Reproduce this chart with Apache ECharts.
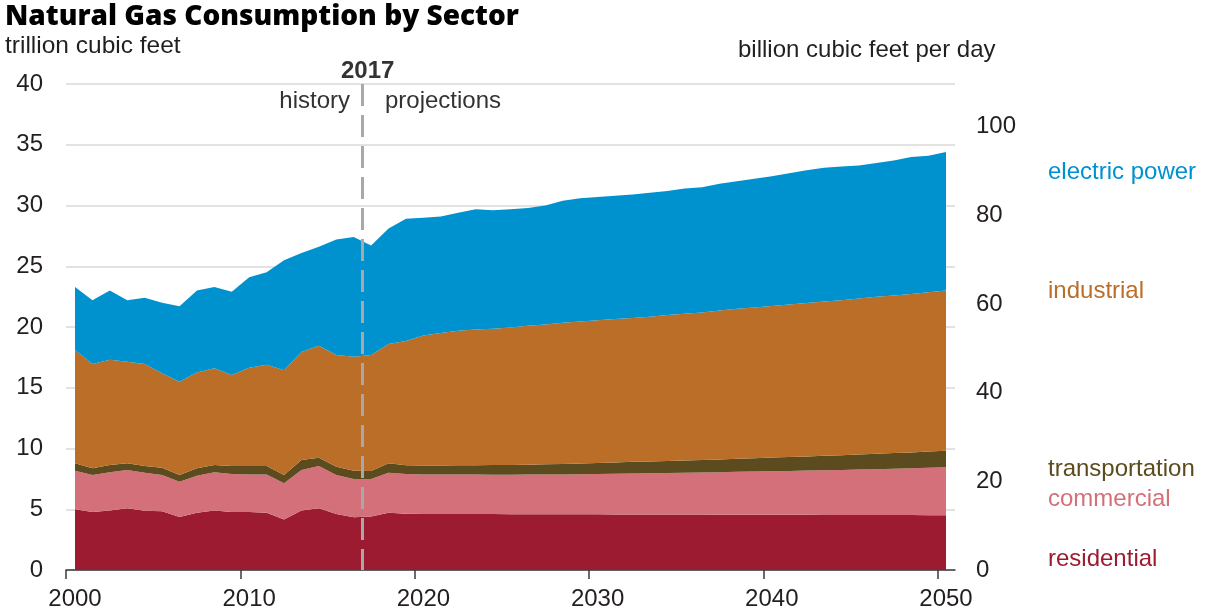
<!DOCTYPE html>
<html>
<head>
<meta charset="utf-8">
<script src="https://cdn.jsdelivr.net/npm/echarts@6/dist/echarts.min.js"></script>
<style>
html,body{margin:0;padding:0;background:#fff;}
#c{width:1205px;height:614px;}
</style>
</head>
<body>
<div id="c"></div>
<script>
const years = [2000,2001,2002,2003,2004,2005,2006,2007,2008,2009,2010,2011,2012,2013,2014,2015,2016,2017,
  2018,2019,2020,2021,2022,2023,2024,2025,2026,2027,2028,2029,2030,2031,2032,2033,2034,2035,2036,2037,2038,2039,
  2040,2041,2042,2043,2044,2045,2046,2047,2048,2049,2050];

const residential = [5.00,4.77,4.89,5.08,4.87,4.83,4.37,4.72,4.89,4.78,4.78,4.71,4.15,4.90,5.09,4.61,4.35,4.41,
  4.72,4.62,4.60,4.60,4.60,4.60,4.60,4.59,4.59,4.59,4.58,4.58,4.58,4.57,4.57,4.57,4.56,4.56,4.56,4.55,4.55,4.55,
  4.54,4.54,4.54,4.53,4.53,4.53,4.52,4.52,4.52,4.51,4.51];

const commercial = [3.17,3.05,3.15,3.15,3.14,2.99,2.90,3.04,3.15,3.12,3.09,3.16,2.98,3.33,3.47,3.21,3.14,3.08,
  3.28,3.28,3.27,3.26,3.25,3.25,3.24,3.25,3.26,3.27,3.29,3.30,3.32,3.35,3.38,3.40,3.43,3.44,3.47,3.50,3.53,3.55,
  3.58,3.61,3.64,3.67,3.71,3.74,3.78,3.82,3.85,3.90,3.94];

const transportation = [0.61,0.55,0.60,0.55,0.55,0.60,0.55,0.61,0.60,0.66,0.69,0.69,0.69,0.82,0.68,0.68,0.68,0.66,
  0.78,0.72,0.73,0.74,0.77,0.78,0.80,0.81,0.82,0.84,0.86,0.89,0.90,0.92,0.95,0.97,0.99,1.02,1.03,1.05,1.07,1.10,
  1.13,1.15,1.17,1.20,1.21,1.23,1.26,1.28,1.31,1.34,1.37];

const industrial = [9.32,8.58,8.66,8.37,8.39,7.78,7.68,7.88,7.96,7.49,8.09,8.34,8.63,8.90,9.21,9.20,9.38,9.55,
  9.82,10.23,10.70,10.90,11.08,11.17,11.21,11.30,11.43,11.50,11.62,11.68,11.75,11.81,11.85,11.91,12.00,12.08,12.14,12.25,12.35,12.40,
  12.47,12.55,12.62,12.70,12.75,12.85,12.94,12.98,13.04,13.10,13.18];

const electricPower = [5.20,5.25,5.70,5.05,5.45,5.80,6.20,6.75,6.70,6.85,7.45,7.60,9.05,8.15,8.15,9.50,9.85,9.00,
  9.50,10.05,9.70,9.60,9.70,9.90,9.75,9.75,9.70,9.80,10.05,10.15,10.15,10.15,10.15,10.20,10.22,10.30,10.30,10.45,10.50,10.60,
  10.68,10.80,10.93,11.00,11.00,10.95,11.00,11.10,11.28,11.25,11.40];

const xTicks = [2000,2010,2020,2030,2040,2050];
const leftTicks = [0,5,10,15,20,25,30,35,40];
const rightTicks = [0,20,40,60,80,100];
const divideYear = 2017;

const seriesDefs = [
  {name:'residential', data: residential, color:'#9c1b30'},
  {name:'commercial', data: commercial, color:'#d4707a'},
  {name:'transportation', data: transportation, color:'#5b4b1e'},
  {name:'industrial', data: industrial, color:'#ba6e27'},
  {name:'electric power', data: electricPower, color:'#0091cf'}
];

const FONT = '"Liberation Sans", Arial, sans-serif';
const chart = echarts.init(document.getElementById('c'), null, {renderer:'canvas'});

const series = seriesDefs.map(s => ({
  name: s.name, type: 'line', stack: 'total',
  xAxisIndex: 0, yAxisIndex: 0,
  data: s.data,
  symbol: 'none', showSymbol: false,
  lineStyle: {width: 0},
  areaStyle: {color: s.color, opacity: 1},
  itemStyle: {color: s.color},
  z: 2, silent: true
}));

series.push({
  type: 'line', xAxisIndex: 1, yAxisIndex: 1,
  data: [[divideYear, 0]], symbol: 'none', lineStyle: {opacity: 0},
  z: 5, silent: true,
  markLine: {
    symbol: 'none', silent: true, z: 6,
    label: {show: false},
    lineStyle: {type: [22, 9], color: '#a8a8a8', width: 3},
    data: [[{coord: [divideYear, 40]}, {coord: [divideYear, 0]}]]
  }
});

const labelPos = [
  {text:'electric power', y:173, color:'#0091cf'},
  {text:'industrial', y:292, color:'#ba6e27'},
  {text:'transportation', y:470, color:'#5b4b1e'},
  {text:'commercial', y:500, color:'#d4707a'},
  {text:'residential', y:560, color:'#9c1b30'}
];

const graphics = [
  {type:'text', left:5, top:3, style:{text:'Natural Gas Consumption by Sector', font:'800 28px "Open Sans", sans-serif', fill:'#000'}},
  {type:'text', left:5, top:34, style:{text:'trillion cubic feet', font:'24.5px '+FONT, fill:'#231f20'}},
  {type:'text', left:738, top:38, style:{text:'billion cubic feet per day', font:'24px '+FONT, fill:'#231f20'}},
  {type:'text', left:341, top:59, style:{text:'2017', font:'bold 24px '+FONT, fill:'#333'}},
  {type:'text', right:1205-350, top:89, style:{text:'history', font:'24px '+FONT, fill:'#333'}},
  {type:'text', left:385, top:89, style:{text:'projections', font:'24px '+FONT, fill:'#333'}}
];
labelPos.forEach(l => graphics.push({type:'text', left:1048, top:l.y-13, style:{text:l.text, font:'24px '+FONT, fill:l.color}}));

chart.setOption({
  animation: false,
  backgroundColor: '#fff',
  grid: [
    {left: 75, right: 1205-946, top: 84, bottom: 44},
    {left: 66, right: 1205-955, top: 84, bottom: 44}
  ],
  xAxis: [
    {type:'category', gridIndex:0, data: years, boundaryGap:false,
     axisLine:{show:false}, axisTick:{show:false}, splitLine:{show:false},
     axisLabel:{show:true, margin:17, fontSize:24, fontFamily:FONT, color:'#231f20',
       interval: (idx, val) => xTicks.indexOf(Number(val)) >= 0}},
    {type:'value', gridIndex:1, min:2000, max:2051, interval:10,
     axisLine:{show:true, lineStyle:{color:'#3a3a3a', width:1.5}},
     axisTick:{show:true, length:9, lineStyle:{color:'#3a3a3a', width:1.5}, customValues: xTicks},
     axisLabel:{show:false}, splitLine:{show:false}}
  ],
  yAxis: [
    {type:'value', gridIndex:0, min:0, max:40, show:false, splitLine:{show:false}},
    {type:'value', gridIndex:1, min:0, max:40, interval:5, position:'left',
     axisLine:{show:false}, axisTick:{show:false},
     splitLine:{show:true, lineStyle:{color:'#d9d9d9', width:1.5}},
     axisLabel:{margin:23, fontSize:24, fontFamily:FONT, color:'#231f20', customValues: leftTicks}},
    {type:'value', gridIndex:1, min:0, max:40*1000/365, interval:20, position:'right',
     axisLine:{show:false}, axisTick:{show:false}, splitLine:{show:false},
     axisLabel:{margin:21, fontSize:24, fontFamily:FONT, color:'#231f20', customValues: rightTicks,
       formatter: v => (Math.abs(v % 20) < 1e-6 ? String(Math.round(v)) : '')}}
  ],
  series: series,
  graphic: graphics
});
</script>
</body>
</html>
